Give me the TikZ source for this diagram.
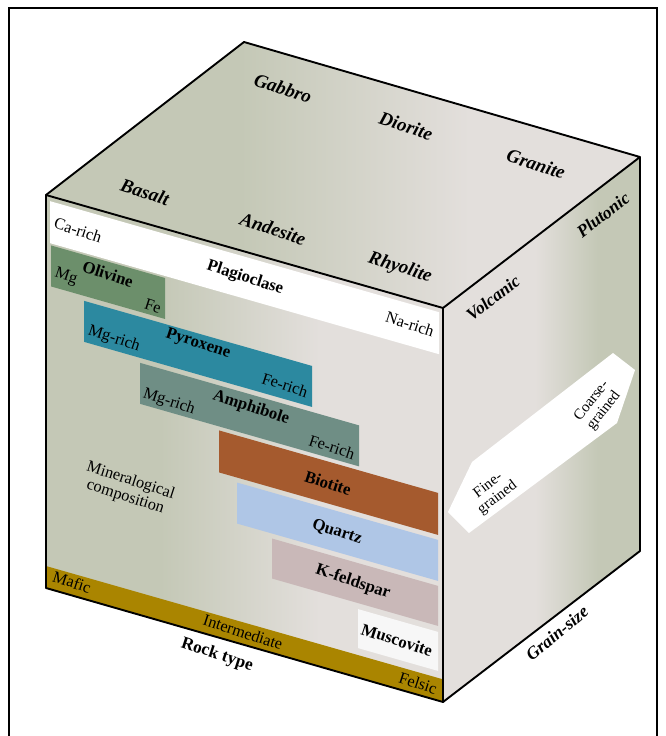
\documentclass[tikz,border=0pt]{standalone}
\usepackage{fontspec}
\setmainfont{Liberation Serif}
\definecolor{cgreen}{RGB}{196,200,182}
\definecolor{clight}{RGB}{227,223,220}
\definecolor{olcol}{RGB}{108,143,107}
\definecolor{pxcol}{RGB}{44,137,160}
\definecolor{amcol}{RGB}{111,142,133}
\definecolor{bicol}{RGB}{165,90,46}
\definecolor{qzcol}{RGB}{175,198,230}
\definecolor{kfcol}{RGB}{201,184,184}
\definecolor{mscol}{RGB}{247,247,247}
\definecolor{goldcol}{RGB}{170,133,0}
\begin{document}
\begin{tikzpicture}[x=1pt,y=-1pt,
  lbl/.style={font=\fontsize{16.3}{17}\selectfont, inner sep=0pt, rotate=-18, align=center},
  blbl/.style={font=\fontsize{16.8}{18}\selectfont\bfseries, inner sep=0pt, rotate=-18},
  toplbl/.style={font=\fontsize{19}{20}\selectfont\bfseries\itshape, inner sep=0pt, rotate=-18},
  rlbl/.style={font=\fontsize{17.5}{19}\selectfont\bfseries\itshape, inner sep=0pt, rotate=37.5},
  glbl/.style={font=\fontsize{15}{15.5}\selectfont, inner sep=0pt, align=center},
  cubeedge/.style={line width=1.9pt, line join=round}]
\useasboundingbox (0,0) rectangle (665,736);
% frame
\draw[line width=1.3pt] (9,736) -- (9,8) -- (657,8) -- (657,736);
% cube corners
\coordinate (F1) at (46,195);
\coordinate (F2) at (443,308);
\coordinate (F3) at (443,702);
\coordinate (F4) at (46,588);
\coordinate (B1) at (244,42);
\coordinate (B2) at (640,157);
\coordinate (B3) at (640,551);
% top face
\begin{scope}
\clip (F1) -- (B1) -- (B2) -- (F2) -- cycle;
\fill[cgreen] (40,35) rectangle (240,320);
\shade[left color=cgreen, right color=clight] (240,35) rectangle (470,320);
\fill[clight] (470,35) rectangle (650,320);
\end{scope}
% front face
\begin{scope}
\clip (F1) -- (F2) -- (F3) -- (F4) -- cycle;
\fill[cgreen] (40,190) rectangle (160,710);
\shade[left color=cgreen, right color=clight] (160,190) rectangle (320,710);
\fill[clight] (320,190) rectangle (450,710);
\end{scope}
% right face
\begin{scope}
\clip (F2) -- (B2) -- (B3) -- (F3) -- cycle;
\fill[clight] (440,150) rectangle (535,710);
\shade[left color=clight, right color=cgreen] (535,150) rectangle (598,710);
\fill[cgreen] (598,150) rectangle (645,710);
\end{scope}
% bands on the front face (u along the face, v down)
\begin{scope}[cm={1,-0.2855,0,1,(46,195)}]
\fill[white] (4,5) rectangle (393,47);
\fill[olcol] (5,49) rectangle (119,90);
\fill[pxcol] (38,95) rectangle (266,136);
\fill[amcol] (94,141) rectangle (313,182);
\fill[bicol] (173,186) rectangle (392,228);
\fill[qzcol] (191,233) rectangle (392,274);
\fill[kfcol] (226,279) rectangle (392,319);
\fill[mscol] (312,325) rectangle (392,364);
\fill[goldcol] (0,371) rectangle (397,393.6);
\end{scope}
% grain-size arrow
\fill[white] (472,462) -- (613,353) -- (635,370) -- (617,423) -- (469,533) -- (448,512) -- cycle;
% cube edges
\draw[cubeedge] (F1) -- (F2) -- (F3) -- (F4) -- cycle;
\draw[cubeedge] (F1) -- (B1) -- (B2) -- (F2);
\draw[cubeedge] (B2) -- (B3) -- (F3);
% top face labels
\node[toplbl] (gabbro) at (283,88) {Gabbro};
\node[toplbl] (diorite) at (406,126) {Diorite};
\node[toplbl] (granite) at (536,164) {Granite};
\node[toplbl] (basalt) at (145,192) {Basalt};
\node[toplbl] (andesite) at (273,229) {Andesite};
\node[toplbl] (rhyolite) at (400,268) {Rhyolite};
% right face labels
\node[rlbl] (plutonic) at (603,215) {Plutonic};
\node[rlbl] (volcanic) at (493,298) {Volcanic};
\node[rlbl, rotate=2] (grainsize) at (557,633) {Grain-size};
\node[glbl, rotate=52] (coarse) at (598,406) {Coarse-\\grained};
\node[glbl, rotate=37] (fine) at (493,492) {Fine-\\grained};
% plagioclase
\node[lbl] (carich) at (78,230) {Ca-rich};
\node[blbl] (plag) at (245,278) {Plagioclase};
\node[lbl] (narich) at (410,324) {Na-rich};
% olivine
\node[lbl] (mg) at (66,277) {Mg};
\node[blbl] (olivine) at (108,274) {Olivine};
\node[lbl] (fe) at (153,306) {Fe};
% pyroxene
\node[lbl] (pxmg) at (114,339) {Mg-rich};
\node[blbl] (pyroxene) at (198,344) {Pyroxene};
\node[lbl] (pxfe) at (285,385) {Fe-rich};
% amphibole
\node[lbl] (ammg) at (169,402) {Mg-rich};
\node[blbl] (amphibole) at (251,408) {Amphibole};
\node[lbl] (amfe) at (332,447) {Fe-rich};
% others
\node[blbl] (biotite) at (328,483) {Biotite};
\node[blbl] (quartz) at (337,532) {Quartz};
\node[blbl] (kfeld) at (353,582) {K-feldspar};
\node[blbl] (muscovite) at (397,640) {Muscovite};
\node[lbl] (minc) at (128,489) {Mineralogical\\composition};
% rock type bar
\node[lbl] (mafic) at (72,582) {Mafic};
\node[lbl] (interm) at (243,632) {Intermediate};
\node[lbl] (felsic) at (418,683) {Felsic};
\node[blbl, font=\fontsize{17.3}{18}\selectfont\bfseries] (rocktype) at (217,655) {Rock type};
\end{tikzpicture}
\end{document}
